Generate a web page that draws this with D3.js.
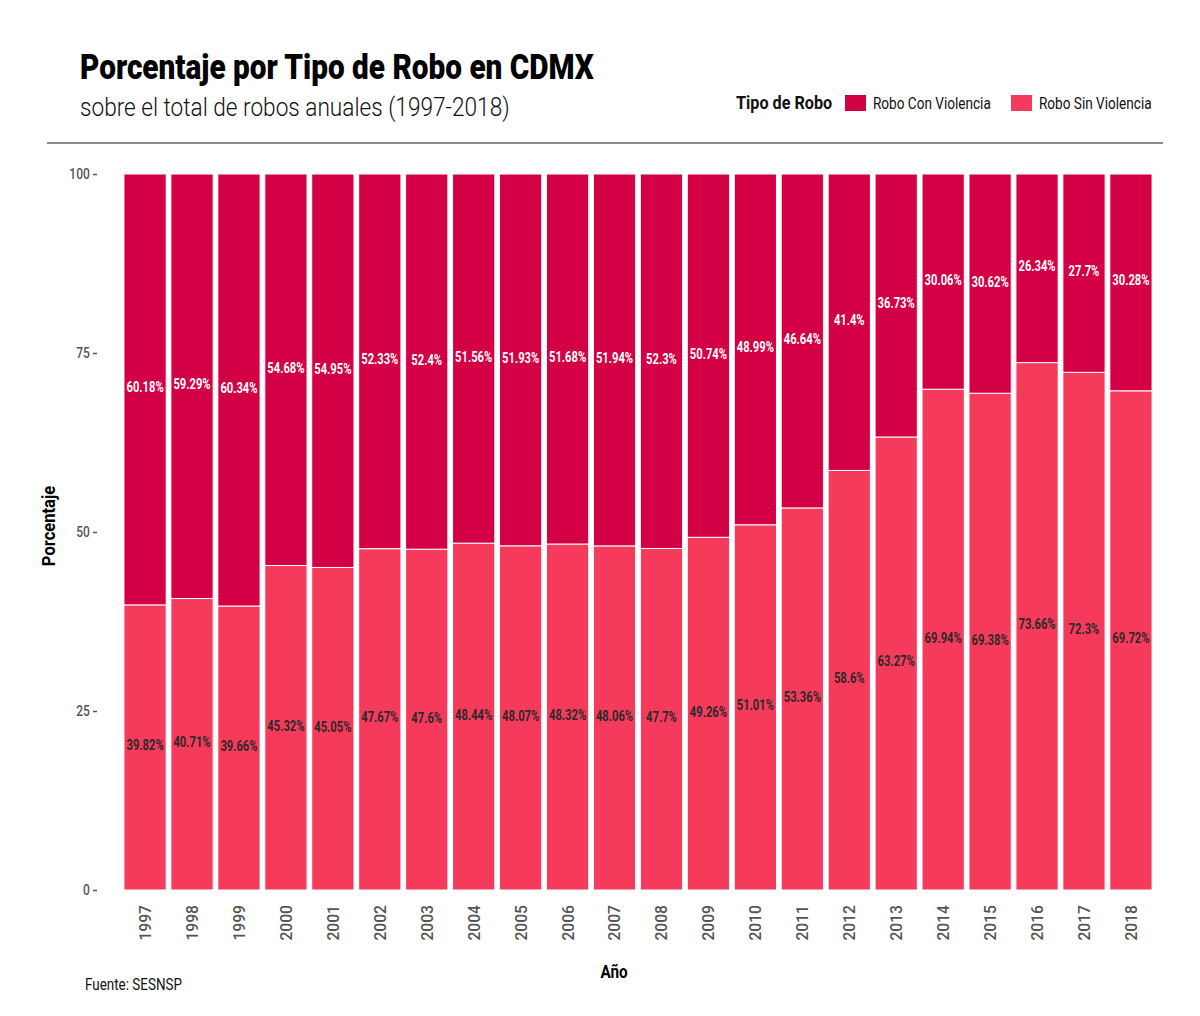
<!DOCTYPE html>
<html>
<head>
<meta charset="utf-8">
<script src="https://cdn.jsdelivr.net/npm/d3@7"></script>
<style>
  body { margin: 0; background: #fff; }
  text { font-family: "Roboto", "Liberation Sans", sans-serif; }
</style>
</head>
<body>
<svg id="chart" width="1200" height="1016"></svg>
<script>
var years = ["1997","1998","1999","2000","2001","2002","2003","2004","2005","2006","2007","2008","2009","2010","2011","2012","2013","2014","2015","2016","2017","2018"];
var conViolencia = [60.18, 59.29, 60.34, 54.68, 54.95, 52.33, 52.4, 51.56, 51.93, 51.68, 51.94, 52.3, 50.74, 48.99, 46.64, 41.4, 36.73, 30.06, 30.62, 26.34, 27.7, 30.28];
var sinViolencia = [39.82, 40.71, 39.66, 45.32, 45.05, 47.67, 47.6, 48.44, 48.07, 48.32, 48.06, 47.7, 49.26, 51.01, 53.36, 58.6, 63.27, 69.94, 69.38, 73.66, 72.3, 69.72];
var yTicks = [0, 25, 50, 75, 100];
var seriesNames = ["Robo Con Violencia", "Robo Sin Violencia"];
var colors = ["#d40045", "#f63a5b"];

var SX = 0.8; // squeeze text horizontally to look like a condensed face

var svg = d3.select("#chart");

function label(str, x, y, size, weight, fill, anchor, rot, sx) {
  return svg.append("text")
    .attr("transform", "translate(" + x + "," + y + ")" + (rot ? " rotate(" + rot + ")" : "") + " scale(" + (sx || SX) + ",1)")
    .attr("text-anchor", anchor || "start")
    .style("font-size", size + "px")
    .style("font-weight", weight || "normal")
    .attr("fill", fill || "#111")
    .text(str);
}

// title block
label("Porcentaje por Tipo de Robo en CDMX", 80, 79, 35, "900", "#000", "start", 0, 0.85);
label("sobre el total de robos anuales (1997-2018)", 80, 116, 26, "300", "#111", "start", 0, 0.87);
svg.append("line").attr("x1", 47).attr("x2", 1163).attr("y1", 143).attr("y2", 143)
  .attr("stroke", "#666").attr("stroke-width", 1.5);

// legend
label("Tipo de Robo", 736, 109, 18, "bold", "#111", "start", 0, 0.9);
var legendX = [845, 1011];
seriesNames.forEach(function (name, i) {
  svg.append("rect").attr("x", legendX[i]).attr("y", 95).attr("width", 21).attr("height", 16)
    .attr("fill", colors[i]);
  label(name, legendX[i] + 28, 109, 16, "normal", "#111", "start", 0, 0.85);
});

var x = d3.scaleBand().domain(years).range([123, 1153]).paddingInner(0.1).paddingOuter(0.02);
var y = d3.scaleLinear().domain([0, 100]).range([890, 174]);

var rows = years.map(function (yr, i) {
  return { year: yr, sin: sinViolencia[i], con: conViolencia[i] };
});
var stacked = d3.stack().keys(["sin", "con"])(rows);

var layers = svg.append("g").selectAll("g").data(stacked).join("g")
  .attr("fill", function (d, i) { return colors[1 - i]; });

layers.selectAll("rect").data(function (d) { return d; }).join("rect")
  .attr("x", function (d) { return x(d.data.year); })
  .attr("y", function (d) { return y(d[1]); })
  .attr("width", x.bandwidth())
  .attr("height", function (d) { return y(d[0]) - y(d[1]); })
  .attr("stroke", "#fff").attr("stroke-width", 1);

// value labels in the middle of each segment
stacked.forEach(function (layer, li) {
  var vals = li === 1 ? conViolencia : sinViolencia;
  layer.forEach(function (d, i) {
    label(vals[i] + "%", x(d.data.year) + x.bandwidth() / 2, y((d[0] + d[1]) / 2) + 3,
      14, "bold", li === 1 ? "#fff" : "#2a2a2a", "middle");
  });
});

// y axis
var yAxis = d3.axisLeft(y).tickValues(yTicks).tickSize(4).tickPadding(5);
var gy = svg.append("g").attr("transform", "translate(97,0)").call(yAxis);
gy.select(".domain").remove();
gy.selectAll("line").attr("stroke", "#555").attr("stroke-width", 1.5);
gy.selectAll("text").attr("fill", "#555").style("font-size", "15px").style("font-weight", "500")
  .style("font-family", null).attr("transform", "scale(" + SX + ",1)");

// x axis
var xAxis = d3.axisBottom(x).tickSize(0).tickPadding(0);
var gx = svg.append("g").attr("transform", "translate(0,890)").call(xAxis);
gx.select(".domain").remove();
gx.selectAll("text")
  .attr("transform", "rotate(-90) scale(0.92,1)")
  .attr("x", -15 / 0.92).attr("y", 0).attr("dy", "0.35em")
  .attr("text-anchor", "end")
  .attr("fill", "#555").style("font-size", "17px").style("font-weight", "500")
  .style("font-family", null);

// axis titles
label("Porcentaje", 55, 526, 18, "bold", "#000", "middle", -90, 0.92);
label("Año", 614, 978, 18, "bold", "#000", "middle", 0, 0.85);

label("Fuente: SESNSP", 85, 990, 16, "normal", "#111", "start", 0, 0.84);
</script>
</body>
</html>
